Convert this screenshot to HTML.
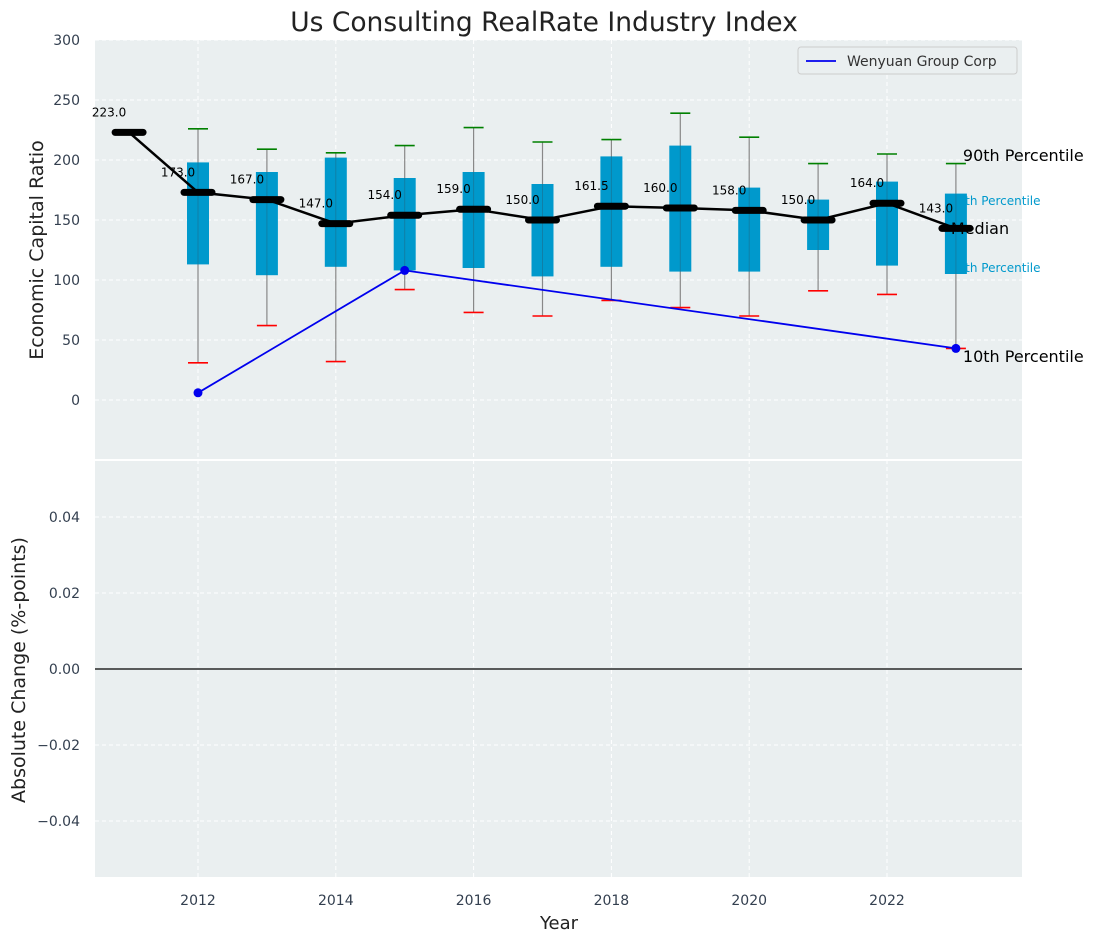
<!DOCTYPE html>
<html><head><meta charset="utf-8">
<style>
html,body{margin:0;padding:0;background:#fff;}
svg{display:block;font-family:"DejaVu Sans","Liberation Sans",sans-serif;}
</style></head>
<body>
<svg id="chart" width="1098" height="942" xmlns="http://www.w3.org/2000/svg"></svg>
<script>
const years = [2012,2013,2014,2015,2016,2017,2018,2019,2020,2021,2022,2023];
const p10 = [31,62,32,92,73,70,83,77,70,91,88,43];
const p25 = [113,104,111,108,110,103,111,107,107,125,112,105];
const p75 = [198,190,202,185,190,180,203,212,177,167,182,172];
const p90 = [226,209,206,212,227,215,217,239,219,197,205,197];
const medYears = [2011,2012,2013,2014,2015,2016,2017,2018,2019,2020,2021,2022,2023];
const medians = [223,173,167,147,154,159,150,161.5,160,158,150,164,143];
const compYears = [2012,2015,2023];
const compVals = [6,108,43];
const yTicksTop = [0,50,100,150,200,250,300];
const yTicksBot = [-0.04,-0.02,0,0.02,0.04];
const xTicks = [2012,2014,2016,2018,2020,2022];

const NS="http://www.w3.org/2000/svg";
const svg=document.getElementById('chart');
function el(tag,attrs,parent){const e=document.createElementNS(NS,tag);for(const k in attrs)e.setAttribute(k,attrs[k]);(parent||svg).appendChild(e);return e;}
const L=95,R=1022,T1=40,B1=460,T2=460,B2=877;
const x=v=>198+(v-2012)*68.9;
const y1=v=>400-v*1.2;
const y2=v=>669-v*3800;

let bg=el('rect',{x:L,y:T1,width:R-L,height:B1-T1,fill:'#eaeff0'});

let bg2=el('rect',{x:L,y:T2+1,width:R-L,height:B2-T2-1,fill:'#eaeff0'});

el('line',{x1:L,x2:R,y1:460,y2:460,stroke:'#fff','stroke-width':2});

xTicks.forEach(t=>{
  [[T1,B1],[T2,B2]].forEach(([a,b])=>{
    const g=el('line',{x1:x(t),x2:x(t),y1:a,y2:b,stroke:'#fff','stroke-dasharray':'4,3','stroke-width':1});
    
  });
  const tx=el('text',{x:x(t),y:905,'text-anchor':'middle','font-size':14,fill:'#333f4f'});tx.textContent=t;
  
});
yTicksTop.forEach(t=>{
  const g=el('line',{x1:L,x2:R,y1:y1(t),y2:y1(t),stroke:'#fff','stroke-dasharray':'4,3'});
  
  const tx=el('text',{x:80,y:y1(t)+5,'text-anchor':'end','font-size':14,fill:'#333f4f'});tx.textContent=t;
  
});
yTicksBot.forEach(t=>{
  const g=el('line',{x1:L,x2:R,y1:y2(t),y2:y2(t),stroke:'#fff','stroke-dasharray':'4,3'});
  
  const tx=el('text',{x:80,y:y2(t)+5,'text-anchor':'end','font-size':14,fill:'#333f4f'});
  tx.textContent=(t<0?'\u2212':'')+Math.abs(t).toFixed(2);
  
});
const zl=el('line',{x1:L,x2:R,y1:y2(0),y2:y2(0),stroke:'#000','stroke-width':1.2});


function lab(t,xx,yy,size,col,name){const e=el('text',{x:xx,y:yy,'font-size':size,fill:col});e.textContent=t;return e;}
const lx=x(2023);
lab('75th Percentile',lx-6,205,12,'#0099cc','p75-label');
lab('25th Percentile',lx-6,272,12,'#0099cc','p25-label');

years.forEach((yr,i)=>{
  const cx=x(yr);
  const w=el('line',{x1:cx,x2:cx,y1:y1(p10[i]),y2:y1(p90[i]),stroke:'#888','stroke-width':1.2});
  
  const b=el('rect',{x:cx-11,y:y1(p75[i]),width:22,height:y1(p25[i])-y1(p75[i]),fill:'#0099cc'});
  
  const w2=el('line',{x1:cx,x2:cx,y1:y1(p75[i]),y2:y1(p25[i]),stroke:'#1a6f8f','stroke-width':1,opacity:0.6});
  
  const c1=el('line',{x1:cx-10,x2:cx+10,y1:y1(p90[i]),y2:y1(p90[i]),stroke:'green','stroke-width':1.6});
  
  const c2=el('line',{x1:cx-10,x2:cx+10,y1:y1(p10[i]),y2:y1(p10[i]),stroke:'red','stroke-width':1.6});
  
});

lab('Median',lx-5,234,16,'#000','median-label');

const mp=el('polyline',{points:medYears.map((yr,i)=>x(yr)+','+y1(medians[i])).join(' '),fill:'none',stroke:'#000','stroke-width':2.5});

medYears.forEach((yr,i)=>{
  const s=el('line',{x1:x(yr)-14,x2:x(yr)+14,y1:y1(medians[i]),y2:y1(medians[i]),stroke:'#000','stroke-width':7,'stroke-linecap':'round'});
  
  const t=el('text',{x:x(yr)-20,y:y1(medians[i])-16,'text-anchor':'middle','font-size':12,fill:'#000'});
  t.textContent=medians[i].toFixed(1);
  
});

const cl=el('polyline',{points:compYears.map((yr,i)=>x(yr)+','+y1(compVals[i])).join(' '),fill:'none',stroke:'#0000ee','stroke-width':1.8});

compYears.forEach((yr,i)=>{
  const c=el('circle',{cx:x(yr),cy:y1(compVals[i]),r:4.5,fill:'#0000ee'});
  
});

lab('90th Percentile',lx+7,161,16,'#000','p90-label');
lab('10th Percentile',lx+7,362,16,'#000','p10-label');

const lg=el('g',{});
el('rect',{x:798,y:47,width:219,height:27,fill:'#eaeff0',stroke:'#ccc',rx:3},lg);
el('line',{x1:806,x2:836,y1:61,y2:61,stroke:'#0000ee','stroke-width':1.8},lg);
const lt=el('text',{x:847,y:66,'font-size':14,fill:'#333'},lg);lt.textContent='Wenyuan Group Corp';

const tt=el('text',{x:544,y:31,'text-anchor':'middle','font-size':26.5,fill:'#222'});tt.textContent='Us Consulting RealRate Industry Index';

const xt=el('text',{x:559,y:929,'text-anchor':'middle','font-size':18,fill:'#222'});xt.textContent='Year';

const yt=el('text',{x:0,y:0,'text-anchor':'middle','font-size':19,fill:'#222',transform:'translate(43,250) rotate(-90)'});yt.textContent='Economic Capital Ratio';

const yb=el('text',{x:0,y:0,'text-anchor':'middle','font-size':19,fill:'#222',transform:'translate(25,670) rotate(-90)'});yb.textContent='Absolute Change (%-points)';

</script>
</body></html>
